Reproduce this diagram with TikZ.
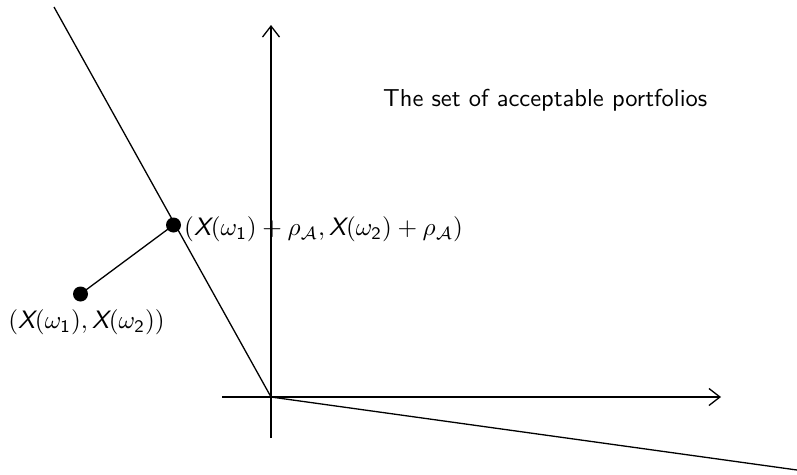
\documentclass[tikz,border=0pt]{standalone}
\renewcommand\familydefault{\sfdefault}
\usetikzlibrary{arrows.meta}
\newcommand\sX{\mbox{\sffamily\itshape X}}
\newcommand\lp{\mathsf{(}}
\newcommand\rp{\mathsf{)}}
\newcommand\rA{\rho_{\mathcal{A}}}
\newcommand\bigtxt[1]{\scalebox{2.45}{#1}}
\newcommand\bigmath[1]{\scalebox{2.52}{#1}}
\begin{document}
\begin{tikzpicture}[x=1pt,y=-1pt,
  ln/.style={line width=1.3pt},
  ax/.style={line width=1.3pt,-{Straight Barb[length=11pt,width=17pt,line width=1.3pt]}},
  dotnode/.style={circle,fill=black,inner sep=0pt,minimum size=15pt},
  lbl/.style={inner sep=0pt}]
\useasboundingbox (0,0) rectangle (797,474);
\coordinate (O) at (271,397);
\coordinate (Ytop) at (271,25);
\coordinate (Ybot) at (271,438);
\coordinate (Xl) at (222,397);
\coordinate (Xr) at (721,397);
\coordinate (Ltop) at (54,7);
\coordinate (Lend) at (797,470);
\draw[ax] (Ybot) -- (Ytop);
\draw[ax] (Xl) -- (Xr);
\draw[ln] (Ltop) -- (O) -- (Lend);
\node[dotnode] (A) at (173.5,225) {};
\node[dotnode] (B) at (80.5,294) {};
\draw[ln] (B.center) -- (A.center);
\node[lbl,anchor=west] (la) at (184,229.5) {\bigmath{$\lp\sX\lp\omega_{\mathsf{1}}\rp+\rA,\sX\lp\omega_{\mathsf{2}}\rp+\rA\rp$}};
\node[lbl] (lb) at (86.5,322.5) {\bigmath{$\lp\sX\lp\omega_{\mathsf{1}}\rp,\sX\lp\omega_{\mathsf{2}}\rp\rp$}};
\node[lbl,anchor=west] (t) at (383,100) {\bigtxt{The set of acceptable portfolios}};
\end{tikzpicture}
\end{document}
